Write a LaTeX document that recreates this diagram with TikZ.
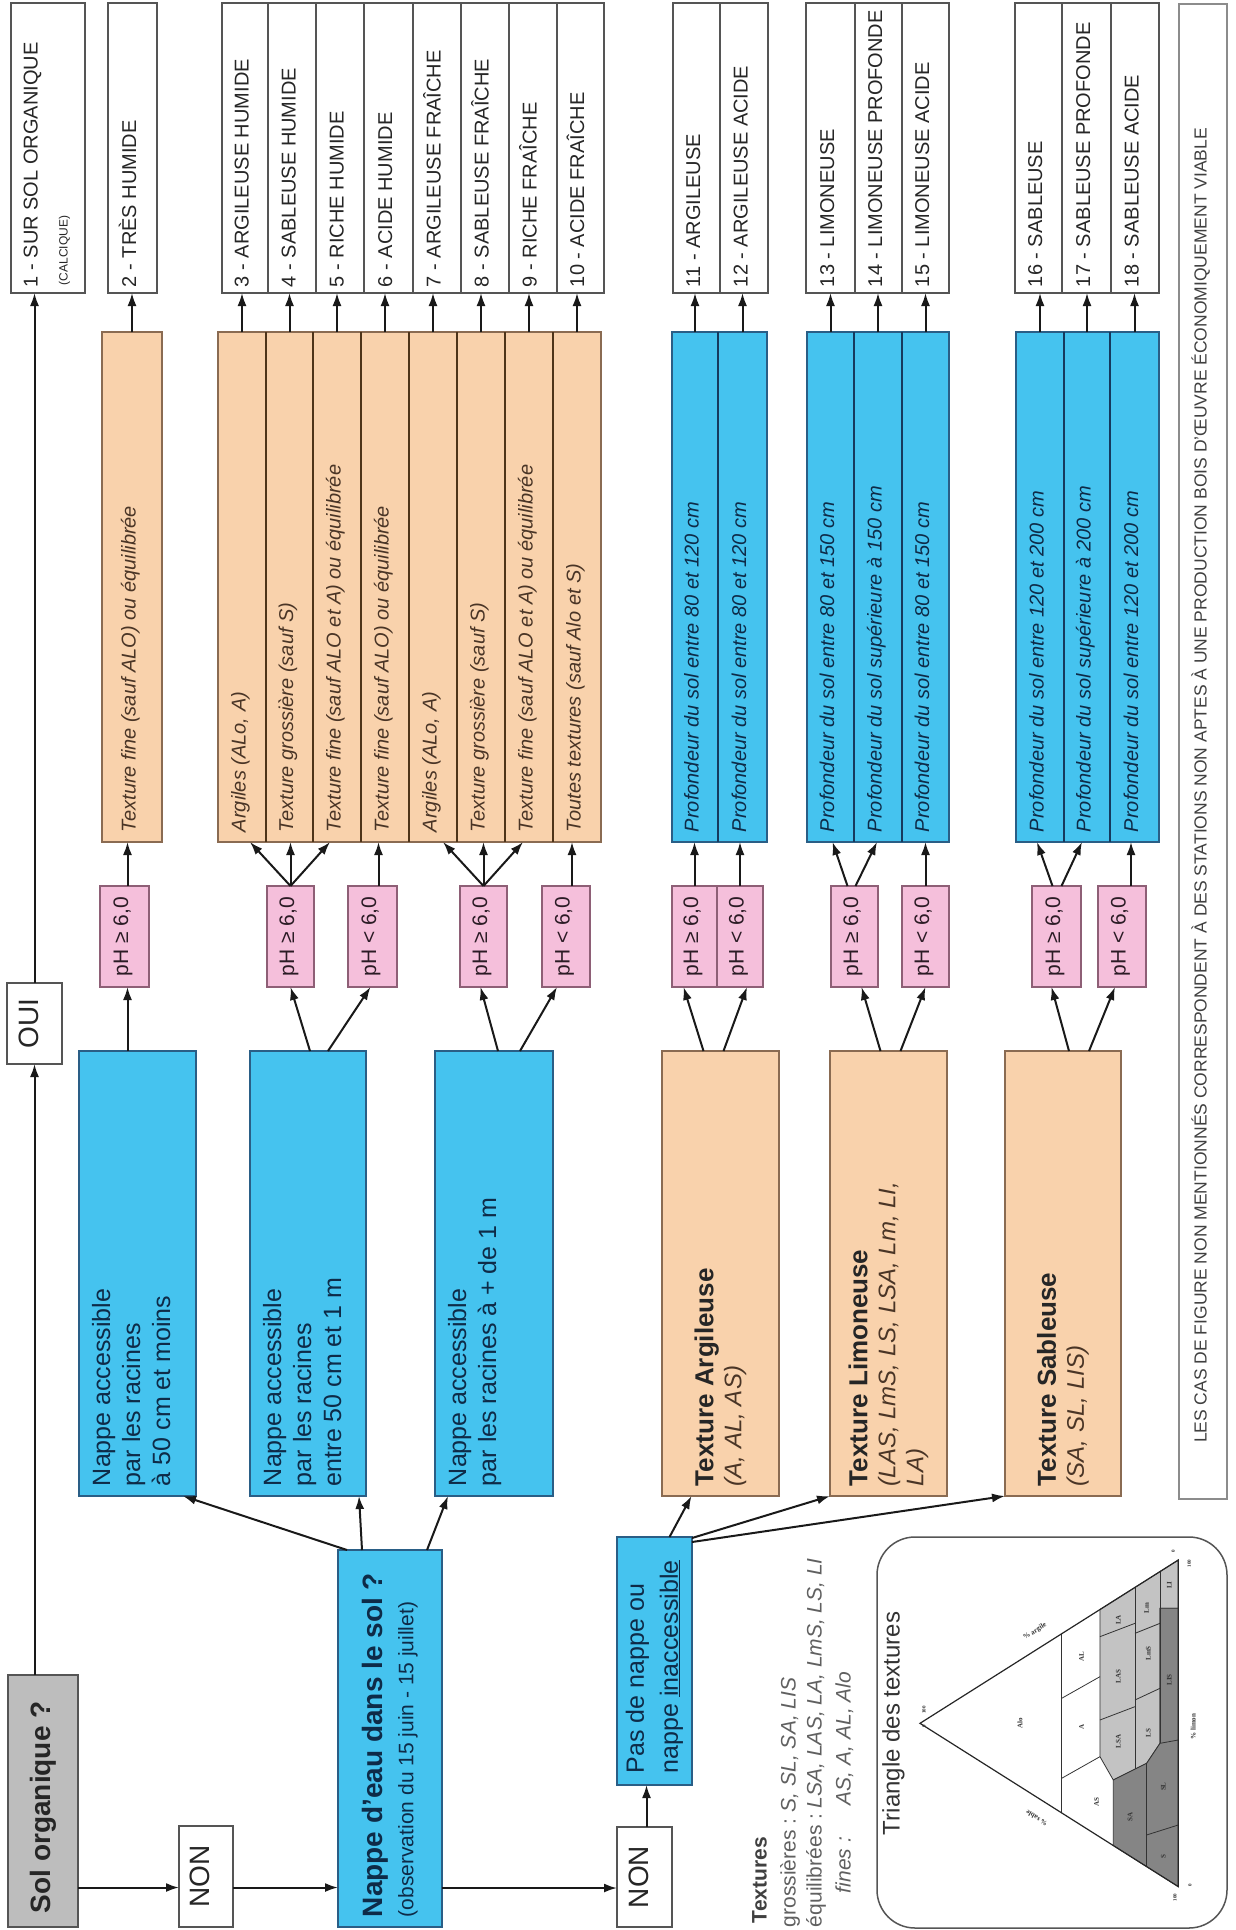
\documentclass[tikz,border=0pt]{standalone}
\usepackage{fontspec}
\setmainfont{Liberation Sans}
\newfontfamily\trifont{Liberation Serif}
\usetikzlibrary{arrows.meta}
\definecolor{peach}{HTML}{F9D2AC}
\definecolor{skyb}{HTML}{45C3EF}
\definecolor{pinkph}{HTML}{F5BFDB}
\definecolor{grayorg}{HTML}{BDBDBD}
\definecolor{rframe}{HTML}{555555}
\definecolor{oframe}{HTML}{8A6B52}
\definecolor{bframe}{HTML}{2A5E86}
\definecolor{pframe}{HTML}{8E5F76}
\definecolor{odivc}{HTML}{4E3419}
\definecolor{bdivc}{HTML}{163A5E}
\definecolor{rtext}{HTML}{262626}
\definecolor{otext}{HTML}{4A3526}
\definecolor{btext}{HTML}{0E2B48}
\definecolor{ptext}{HTML}{2B1B25}
\definecolor{legc}{HTML}{606060}
\definecolor{trilight}{HTML}{C3C3C3}
\definecolor{tridark}{HTML}{858585}
\newcommand\Bx[6]{\node[#1, anchor=north west, minimum width={(#5-#3)*1pt}, minimum height={(#6-#4)*1pt}] (#2) at (#3,#4) {};}
\begin{document}
\begin{tikzpicture}[x=1pt,y=-1pt,
  bxbase/.style={inner sep=0pt, outer sep=0pt, line width=1.3pt},
  rbox/.style={bxbase, draw=rframe, fill=white},
  obox/.style={bxbase, draw=oframe, fill=peach},
  bbox/.style={bxbase, draw=bframe, fill=skyb},
  pbox/.style={bxbase, draw=pframe, fill=pinkph},
  gbox/.style={bxbase, draw=rframe, fill=grayorg},
  nbox/.style={bxbase, draw=black!45, fill=white},
  tribox/.style={bxbase, draw=rframe, line width=1.5pt, rounded corners=38pt},
  odiv/.style={draw=odivc, line width=2.4pt},
  bdiv/.style={draw=bdivc, line width=2.4pt},
  arr/.style={line width=2pt, draw=black!90, -{Latex[length=13pt,width=9pt]}},
  vt/.style={rotate=90, inner sep=0pt, outer sep=0pt, anchor=west},
  rtxt/.style={vt, font=\fontsize{20}{24}\selectfont, text=rtext, text height=0.72em, text depth=0pt},
  otxt/.style={vt, font=\fontsize{20}{24}\selectfont\itshape, text=otext, text height=0.72em, text depth=0pt},
  btxt/.style={vt, font=\fontsize{20}{24}\selectfont\itshape, text=btext, text height=0.72em, text depth=0pt},
  ptxt/.style={vt, anchor=center, font=\fontsize{21}{24}\selectfont, text=ptext, text height=0.72em, text depth=0pt},
  ntxt/.style={vt, anchor=north west, align=left, font=\fontsize{25}{30}\selectfont, text=btext},
  ttxt/.style={vt, align=left, font=\fontsize{24}{28}\selectfont\itshape, text=otext},
  wtxt/.style={vt, anchor=center, font=\fontsize{28}{32}\selectfont, text=rtext, text height=0.72em, text depth=0pt},
  legt/.style={vt, font=\fontsize{21}{24}\selectfont, text=legc, text height=0.72em, text depth=0pt},
  legi/.style={legt, font=\fontsize{21}{24}\selectfont\itshape},
  tril/.style={rotate=90, inner sep=0pt, font=\trifont\fontsize{7}{8}\selectfont\bfseries, text=black!80},
  trin/.style={rotate=90, inner sep=0pt, font=\trifont\fontsize{5}{6}\selectfont\bfseries, text=black!80},
  trie/.style={draw=black!80, line width=0.8pt},
]
\useasboundingbox (0,0) rectangle (1236,1930);
\fill[white] (0,0) rectangle (1236,1930);

% ---------- result boxes ----------
\Bx{rbox}{r1}{11}{3}{85}{293}
\Bx{rbox}{r2}{108}{3}{157}{293}
\Bx{rbox}{r3}{222}{3}{268}{293}
\Bx{rbox}{r4}{268}{3}{316}{293}
\Bx{rbox}{r5}{316}{3}{364}{293}
\Bx{rbox}{r6}{364}{3}{413}{293}
\Bx{rbox}{r7}{413}{3}{461}{293}
\Bx{rbox}{r8}{461}{3}{509}{293}
\Bx{rbox}{r9}{509}{3}{557}{293}
\Bx{rbox}{r10}{557}{3}{604}{293}
\Bx{rbox}{r11}{673}{3}{720}{293}
\Bx{rbox}{r12}{720}{3}{768}{293}
\Bx{rbox}{r13}{806}{3}{855}{293}
\Bx{rbox}{r14}{855}{3}{902}{293}
\Bx{rbox}{r15}{902}{3}{949}{293}
\Bx{rbox}{r16}{1015}{3}{1062}{293}
\Bx{rbox}{r17}{1062}{3}{1111}{293}
\Bx{rbox}{r18}{1111}{3}{1159}{293}
\Bx{nbox}{note}{1179}{4}{1227}{1499}

\node[rtxt] (rt1) at ([xshift=-14pt,yshift=6pt]r1.south) {1 - SUR SOL ORGANIQUE};
\node[rtxt, font=\fontsize{12}{14}\selectfont] (rt1b) at ([xshift=16pt,yshift=8pt]r1.south) {(CALCIQUE)};
\foreach \n/\lab in {2/TRÈS HUMIDE,3/ARGILEUSE HUMIDE,4/SABLEUSE HUMIDE,5/RICHE HUMIDE,6/ACIDE HUMIDE,7/ARGILEUSE FRAÎCHE,8/SABLEUSE FRAÎCHE,9/RICHE FRAÎCHE,10/ACIDE FRAÎCHE,11/ARGILEUSE,12/ARGILEUSE ACIDE,13/LIMONEUSE,14/LIMONEUSE PROFONDE,15/LIMONEUSE ACIDE,16/SABLEUSE,17/SABLEUSE PROFONDE,18/SABLEUSE ACIDE}{
  \node[rtxt] (rt\n) at ([yshift=6pt]r\n.south) {\n{} - \lab};
}
\node[vt, anchor=center, font=\fontsize{17.5}{20}\selectfont, text=black!75, text height=0.72em, text depth=0pt] (notet) at ([yshift=-34pt]note.center) {LES CAS DE FIGURE NON MENTIONNÉS CORRESPONDENT À DES STATIONS NON APTES À UNE PRODUCTION BOIS D'ŒUVRE ÉCONOMIQUEMENT VIABLE};

% ---------- condition strips ----------
\Bx{obox}{c2}{102}{332}{162}{842}
\Bx{obox}{c3}{218}{332}{266}{842}
\Bx{obox}{c4}{266}{332}{313}{842}
\Bx{obox}{c5}{313}{332}{361}{842}
\Bx{obox}{c6}{361}{332}{409}{842}
\Bx{obox}{c7}{409}{332}{457}{842}
\Bx{obox}{c8}{457}{332}{505}{842}
\Bx{obox}{c9}{505}{332}{553}{842}
\Bx{obox}{c10}{553}{332}{601}{842}
\Bx{bbox}{c11}{672}{332}{718}{842}
\Bx{bbox}{c12}{718}{332}{767}{842}
\Bx{bbox}{c13}{807}{332}{854}{842}
\Bx{bbox}{c14}{854}{332}{902}{842}
\Bx{bbox}{c15}{902}{332}{949}{842}
\Bx{bbox}{c16}{1016}{332}{1064}{842}
\Bx{bbox}{c17}{1064}{332}{1110}{842}
\Bx{bbox}{c18}{1110}{332}{1159}{842}
\foreach \i in {3,...,9}{\draw[odiv] (c\i.north east) -- (c\i.south east);}
\foreach \i in {11,13,14,16,17}{\draw[bdiv] (c\i.north east) -- (c\i.south east);}

\node[otxt] (ct2) at ([yshift=10pt]c2.south) {Texture fine (sauf ALO) ou équilibrée};
\node[otxt] (ct3) at ([yshift=10pt]c3.south) {Argiles (ALo, A)};
\node[otxt] (ct4) at ([yshift=10pt]c4.south) {Texture grossière (sauf S)};
\node[otxt] (ct5) at ([yshift=10pt]c5.south) {Texture fine (sauf ALO et A) ou équilibrée};
\node[otxt] (ct6) at ([yshift=10pt]c6.south) {Texture fine (sauf ALO) ou équilibrée};
\node[otxt] (ct7) at ([yshift=10pt]c7.south) {Argiles (ALo, A)};
\node[otxt] (ct8) at ([yshift=10pt]c8.south) {Texture grossière (sauf S)};
\node[otxt] (ct9) at ([yshift=10pt]c9.south) {Texture fine (sauf ALO et A) ou équilibrée};
\node[otxt] (ct10) at ([yshift=10pt]c10.south) {Toutes textures (sauf Alo et S)};
\node[btxt] (ct11) at ([yshift=10pt]c11.south) {Profondeur du sol entre 80 et 120 cm};
\node[btxt] (ct12) at ([yshift=10pt]c12.south) {Profondeur du sol entre 80 et 120 cm};
\node[btxt] (ct13) at ([yshift=10pt]c13.south) {Profondeur du sol entre 80 et 150 cm};
\node[btxt] (ct14) at ([yshift=10pt]c14.south) {Profondeur du sol supérieure à 150 cm};
\node[btxt] (ct15) at ([yshift=10pt]c15.south) {Profondeur du sol entre 80 et 150 cm};
\node[btxt] (ct16) at ([yshift=10pt]c16.south) {Profondeur du sol entre 120 et 200 cm};
\node[btxt] (ct17) at ([yshift=10pt]c17.south) {Profondeur du sol supérieure à 200 cm};
\node[btxt] (ct18) at ([yshift=10pt]c18.south) {Profondeur du sol entre 120 et 200 cm};

% ---------- pH boxes ----------
\Bx{pbox}{p2}{100}{886}{149}{987}
\Bx{pbox}{pH1}{267}{886}{314}{987}
\Bx{pbox}{pH2}{348}{886}{397}{987}
\Bx{pbox}{pF1}{460}{886}{507}{987}
\Bx{pbox}{pF2}{542}{886}{590}{987}
\Bx{pbox}{pA1}{672}{886}{717}{987}
\Bx{pbox}{pA2}{717}{886}{763}{987}
\Bx{pbox}{pL1}{831}{886}{878}{987}
\Bx{pbox}{pL2}{902}{886}{949}{987}
\Bx{pbox}{pS1}{1032}{886}{1081}{987}
\Bx{pbox}{pS2}{1098}{886}{1146}{987}
\foreach \b in {p2,pH1,pF1,pA1,pL1,pS1}{\node[ptxt] (\b t) at (\b) {pH ≥ 6,0};}
\foreach \b in {pH2,pF2,pA2,pL2,pS2}{\node[ptxt] (\b t) at (\b) {pH < 6,0};}

% ---------- first level boxes ----------
\Bx{bbox}{nb1}{79}{1051}{196}{1496}
\Bx{bbox}{nb2}{250}{1051}{366}{1496}
\Bx{bbox}{nb3}{435}{1051}{553}{1496}
\Bx{obox}{ta}{662}{1051}{779}{1496}
\Bx{obox}{tl}{830}{1051}{947}{1496}
\Bx{obox}{ts}{1005}{1051}{1121}{1496}
\node[ntxt] (nb1t) at ([xshift=13pt,yshift=10pt]nb1.south west) {Nappe accessible\\par les racines\\à 50 cm et moins};
\node[ntxt] (nb2t) at ([xshift=13pt,yshift=10pt]nb2.south west) {Nappe accessible\\par les racines\\entre 50 cm et 1 m};
\node[ntxt] (nb3t) at ([xshift=13pt,yshift=10pt]nb3.south west) {Nappe accessible\\par les racines à + de 1 m};
\node[ttxt] (tat) at ([yshift=10pt]ta.south) {{\fontsize{26}{28}\selectfont\bfseries\upshape\color{rtext}Texture Argileuse}\\(A, AL, AS)};
\node[ttxt] (tlt) at ([yshift=10pt]tl.south) {{\fontsize{26}{28}\selectfont\bfseries\upshape\color{rtext}Texture Limoneuse}\\(LAS, LmS, LS, LSA, Lm, LI,\\LA)};
\node[ttxt] (tst) at ([yshift=10pt]ts.south) {{\fontsize{26}{28}\selectfont\bfseries\upshape\color{rtext}Texture Sableuse}\\(SA, SL, LIS)};

% ---------- left / bottom boxes ----------
\Bx{gbox}{so}{8}{1675}{78}{1927}
\Bx{rbox}{oui}{7}{983}{62}{1064}
\Bx{rbox}{non1}{179}{1826}{233}{1927}
\Bx{bbox}{nd}{338}{1550}{442}{1927}
\Bx{rbox}{non2}{617}{1827}{672}{1927}
\Bx{bbox}{pn}{617}{1537}{692}{1785}
\node[vt, font=\fontsize{28}{32}\selectfont\bfseries, text=rtext] (sot) at ([yshift=14pt]so.south) {Sol organique ?};
\node[wtxt] (ouit) at (oui) {OUI};
\node[wtxt] (non1t) at (non1) {NON};
\node[wtxt] (non2t) at (non2) {NON};
\node[vt, align=left, text=btext, font=\fontsize{21}{31}\selectfont] (ndt) at ([yshift=10pt]nd.south) {{\fontsize{28}{31}\selectfont\bfseries Nappe d'eau dans le sol ?}\\(observation du 15 juin - 15 juillet)};
\node[vt, align=left, text=btext, font=\fontsize{25}{34}\selectfont] (pnt) at ([yshift=12pt]pn.south) {Pas de nappe ou\\nappe \underline{inaccessible}};

% ---------- arrows ----------
\foreach \i in {2,...,18}{\draw[arr] (c\i.north) -- (c\i.north |- r\i.south);}
\draw[arr] ([xshift=3pt]p2.north) -- ([xshift=3pt]p2.north |- c2.south);
\draw[arr] (pH1.north) -- ([xshift=8pt]c3.south);
\draw[arr] (pH1.north) -- (pH1.north |- c4.south);
\draw[arr] (pH1.north) -- ([xshift=-7pt]c5.south);
\draw[arr] ([xshift=6pt]pH2.north) -- ([xshift=6pt]pH2.north |- c6.south);
\draw[arr] (pF1.north) -- ([xshift=10pt]c7.south);
\draw[arr] (pF1.north) -- (pF1.north |- c8.south);
\draw[arr] (pF1.north) -- ([xshift=-6pt]c9.south);
\draw[arr] ([xshift=6pt]pF2.north) -- ([xshift=6pt]pF2.north |- c10.south);
\draw[arr] (pA1.north) -- (pA1.north |- c11.south);
\draw[arr] (pA2.north) -- (pA2.north |- c12.south);
\draw[arr] ([xshift=-7pt]pL1.north) -- ([xshift=2pt]c13.south);
\draw[arr] ([xshift=1pt]pL1.north) -- ([xshift=-1pt]c14.south);
\draw[arr] (pL2.north) -- (pL2.north |- c15.south);
\draw[arr] ([xshift=-4pt]pS1.north) -- ([xshift=-3pt]c16.south);
\draw[arr] ([xshift=5pt]pS1.north) -- ([xshift=-5pt]c17.south);
\draw[arr] ([xshift=9pt]pS2.north) -- ([xshift=9pt]pS2.north |- c18.south);

\draw[arr] ([xshift=3pt]p2.south |- nb1.north) -- ([xshift=3pt]p2.south);
\draw[arr] ([xshift=2pt]nb2.north) -- (pH1.south);
\draw[arr] ([xshift=20pt]nb2.north) -- ([xshift=-2pt]pH2.south);
\draw[arr] ([xshift=4pt]nb3.north) -- ([xshift=-3pt]pF1.south);
\draw[arr] ([xshift=26pt]nb3.north) -- ([xshift=-9pt]pF2.south);
\draw[arr] ([xshift=-17pt]ta.north) -- ([xshift=-11pt]pA1.south);
\draw[arr] ([xshift=3pt]ta.north) -- ([xshift=7pt]pA2.south);
\draw[arr] ([xshift=-8pt]tl.north) -- ([xshift=7pt]pL1.south);
\draw[arr] ([xshift=12pt]tl.north) -- (pL2.south);
\draw[arr] ([xshift=6pt]ts.north) -- ([xshift=-5pt]pS1.south);
\draw[arr] ([xshift=26pt]ts.north) -- ([xshift=-7pt]pS2.south);

\draw[arr] (so.north -| oui.south) -- (oui.south);
\draw[arr] (oui.north) -- (oui.north |- r1.south);
\coordinate (ya) at ([yshift=-11pt]non1.west);
\draw[arr] (so.east |- ya) -- (ya);
\draw[arr] (non1.east |- ya) -- (nd.west |- ya);
\coordinate (yb) at ([yshift=-11pt]non2.west);
\draw[arr] (nd.east |- yb) -- (yb);
\draw[arr] ([xshift=2pt]non2.north) -- ([xshift=2pt]non2.north |- pn.south);
\draw[arr] ([xshift=9pt]nd.north west) -- ([xshift=-13pt]nb1.south east);
\draw[arr] ([xshift=24pt]nd.north west) -- ([xshift=-7pt]nb2.south east);
\draw[arr] ([xshift=-15pt]nd.north east) -- ([xshift=13pt]nb3.south west);
\draw[arr] ([xshift=15pt]pn.north) -- ([xshift=-29pt]ta.south);
\draw[arr] ([yshift=-1pt]pn.north east) -- (tl.south west);
\draw[arr] ([yshift=-5pt]pn.north east) -- (ts.south west);

% ---------- legend ----------
\node[legt, font=\fontsize{21}{24}\selectfont\bfseries, text=black!75] (lg0) at (763,1923) {Textures};
\node[legt] (lg1) at (792,1927) {grossières :};
\node[legi] (lg2) at (792,1812) {S, SL, SA, LIS};
\node[legt] (lg3) at (818,1927) {équilibrées :};
\node[legi] (lg4) at (818,1808) {LSA, LAS, LA, LmS, LS, LI};
\node[legi] (lg5) at (847,1893) {fines :};
\node[legi] (lg6) at (847,1805) {AS, A, AL, Alo};

% ---------- texture triangle ----------
\Bx{tribox}{trb}{877}{1537}{1227}{1928}
\node[vt, font=\fontsize{24}{28}\selectfont, text=black!80, text height=0.72em, text depth=0pt] (trit) at (896,1835) {Triangle des textures};
\begin{scope}[shift={(780,1480)}, x=0.3333pt, y=-0.3333pt]
  \fill[white] (420,730) -- (1195,240) -- (1195,1220) -- cycle;
  \filldraw[fill=trilight, trie] (960,830) -- (960,388.6) -- (1195,240) -- (1195,385) -- (1140,385) -- (1140,790) -- (1100,850) -- (1000,900) -- cycle;
  \filldraw[fill=tridark, trie] (1000,1096.7) -- (1000,900) -- (1100,850) -- (1140,790) -- (1140,385) -- (1195,385) -- (1195,1220) -- cycle;
  \draw[trie] (845,998.7) -- (845,461.3);
  \draw[trie] (845,895) -- (960,830);
  \draw[trie] (845,655) -- (960,590);
  \draw[trie] (1065,867.5) -- (1065,322.2);
  \draw[trie] (1100,850) -- (1100,1160);
  \draw[trie] (1140,274.7) -- (1140,790);
  \draw[trie] (960,720) -- (1065,680);
  \draw[trie] (960,470) -- (1065,430);
  \draw[trie] (1065,660) -- (1140,625);
  \draw[trie] (1065,460) -- (1140,430);
  \draw[trie] (1100,1065) -- (1195,1035);
  \draw[trie] (1140,790) -- (1195,780);
  \draw[draw=black!85, line width=1.2pt] (420,730) -- (1195,240) -- (1195,1220) -- cycle;
  \node[tril] (tAlo) at (720,730) {Alo};
  \node[tril] (tA) at (905,740) {A};
  \node[tril] (tAL) at (905,530) {AL};
  \node[tril] (tAS) at (950,965) {AS};
  \node[tril] (tLSA) at (1015,785) {LSA};
  \node[tril] (tLAS) at (1015,590) {LAS};
  \node[tril] (tLA) at (1015,420) {LA};
  \node[tril] (tLS) at (1105,760) {LS};
  \node[tril] (tLmS) at (1105,520) {LmS};
  \node[tril] (tLm) at (1100,385) {Lm};
  \node[tril] (tLI) at (1168,315) {LI};
  \node[tril] (tLIS) at (1168,600) {LIS};
  \node[tril] (tSA) at (1050,1010) {SA};
  \node[tril] (tSL) at (1150,920) {SL};
  \node[tril] (tS) at (1150,1130) {S};
  \node[tril, rotate=-58] (targ) at (765,455) {\% argile};
  \node[tril, rotate=58] (tsab) at (770,1015) {\% sable};
  \node[tril] (tlim) at (1240,740) {\% limon};
  \node[trin] (n1) at (432,738) {0};
  \node[trin] (n2) at (432,690) {100};
  \node[trin] (n3) at (1180,215) {0};
  \node[trin] (n4) at (1228,250) {100};
  \node[trin] (n5) at (1185,1252) {100};
  \node[trin] (n6) at (1230,1215) {0};
\end{scope}
\end{tikzpicture}
\end{document}
